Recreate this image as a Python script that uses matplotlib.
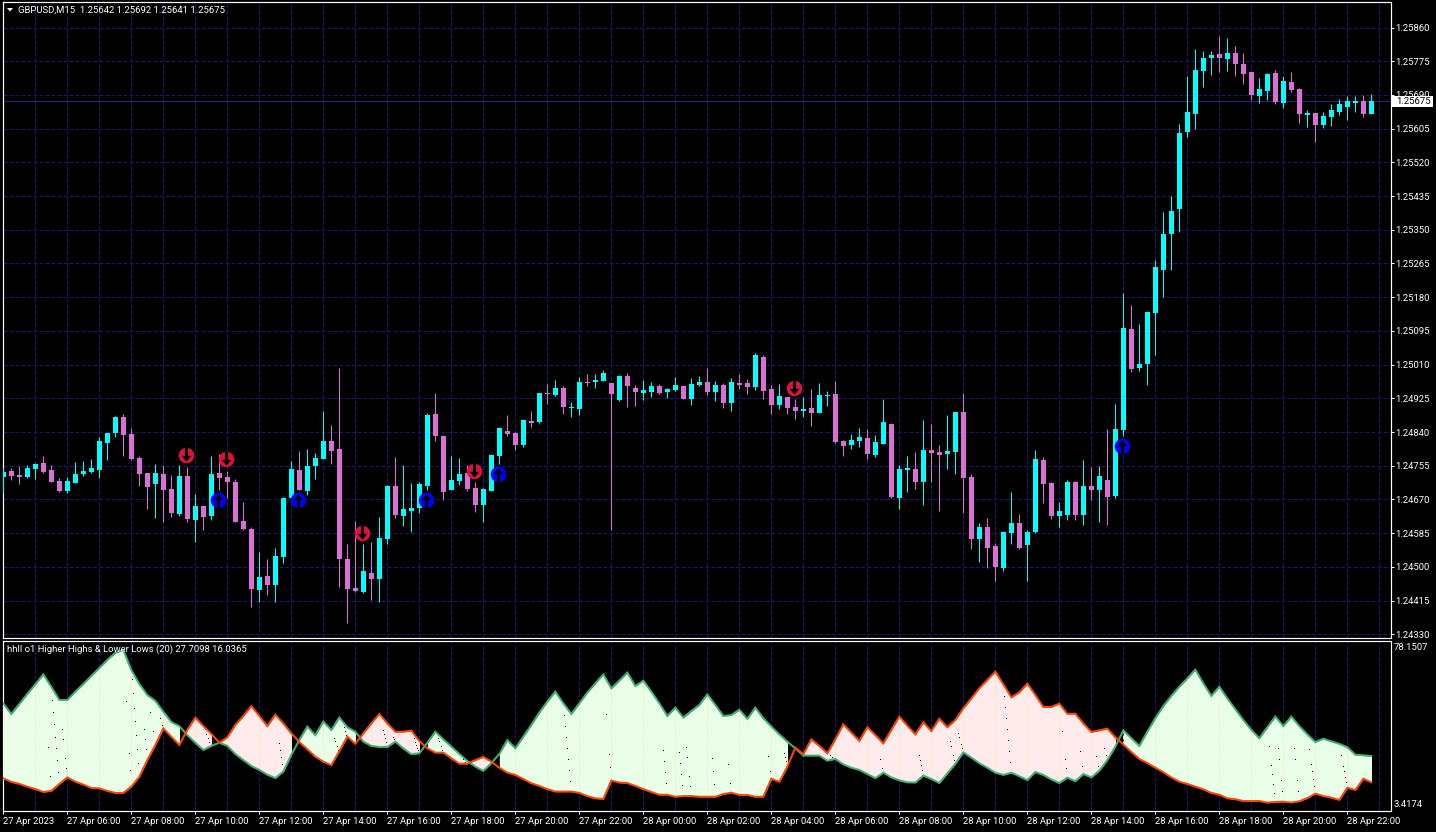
import numpy as np
import matplotlib
matplotlib.use("Agg")
import matplotlib.pyplot as plt
from matplotlib.path import Path
from matplotlib.patches import Rectangle

# Candles, in points (0.00001) above 1.24000
opens = [727,742,732,727,747,762,744,717,691,711,734,739,744,812,838,878,835,775,737,709,734,696,633,729,618,653,628,737,727,714,616,596,442,477,454,525,674,744,691,754,772,817,797,520,447,437,485,469,570,704,628,641,648,704,885,830,694,717,737,699,656,691,780,843,838,807,868,865,938,933,951,901,898,966,966,969,964,921,981,951,938,941,956,941,946,956,923,959,966,941,959,913,964,964,954,1029,948,908,928,903,893,901,888,931,936,817,807,817,825,782,810,860,674,744,747,714,795,790,785,790,891,727,570,601,553,497,585,611,555,588,769,711,628,631,714,631,704,694,719,679,845,1100,1001,1012,1140,1249,1339,1402,1597,1642,1750,1783,1793,1781,1796,1768,1748,1687,1700,1745,1670,1723,1705,1639,1644,1614,1634,1647,1660,1670,1675,1642]
highs = [749,749,754,757,762,780,757,724,727,764,767,772,827,838,880,885,850,780,737,759,757,732,757,752,684,653,780,785,743,722,664,601,538,520,548,676,767,792,797,787,893,858,1001,558,616,558,563,626,706,777,757,711,714,888,938,833,780,775,757,714,699,785,853,883,840,873,893,938,961,971,956,916,979,986,986,996,964,984,989,959,971,966,961,951,979,956,976,981,1001,969,964,976,986,974,1039,1034,959,961,928,923,928,948,964,943,969,820,835,850,848,833,923,863,757,780,790,870,860,807,883,891,938,734,611,623,560,590,689,633,593,795,777,714,664,719,717,769,752,754,848,911,1191,1160,1112,1143,1274,1395,1435,1617,1738,1806,1801,1801,1839,1834,1813,1796,1748,1733,1745,1753,1738,1748,1708,1652,1644,1647,1667,1680,1687,1687,1690,1692]
lows = [686,719,709,724,722,737,714,689,686,711,729,737,724,769,827,780,769,704,646,623,613,626,628,613,563,593,618,694,674,613,593,399,411,429,411,510,674,694,681,722,772,759,449,358,437,434,417,411,558,623,603,588,636,694,817,669,694,706,691,638,613,691,759,830,795,802,853,863,911,931,885,878,883,956,951,969,593,918,903,906,921,928,936,926,943,923,908,956,933,918,901,893,948,936,946,923,885,898,885,873,878,855,888,906,812,780,797,802,772,777,810,674,646,689,696,656,714,641,747,734,636,545,512,497,464,490,558,545,464,585,661,620,600,618,618,605,669,612,605,674,830,991,994,959,1034,1181,1249,1344,1584,1604,1710,1740,1748,1750,1738,1718,1677,1670,1677,1667,1657,1697,1619,1609,1571,1607,1612,1639,1627,1647,1634,1641]
closes = [739,729,727,749,759,739,714,691,717,734,742,749,817,838,878,833,772,734,701,737,694,636,729,621,653,626,734,724,714,613,596,444,474,454,527,674,747,694,754,775,817,792,520,444,439,490,469,573,704,631,646,648,709,883,830,689,719,734,696,656,696,782,850,835,807,870,863,938,936,951,903,903,966,964,971,989,936,981,956,941,946,956,938,949,959,923,961,966,941,959,913,966,959,954,1034,943,908,931,901,893,898,888,933,933,815,805,820,827,785,815,865,676,747,749,714,795,787,782,792,891,724,570,601,548,500,588,611,548,588,772,709,628,640,714,631,704,694,729,676,848,1102,999,1012,1143,1256,1339,1397,1594,1647,1753,1783,1791,1783,1796,1768,1743,1690,1705,1743,1672,1725,1702,1642,1644,1614,1637,1652,1667,1675,1675,1642,1675]

# Indicator: higher-highs (green) and lower-lows (orange) series
hh_line = [51.1,46.4,50.8,55.3,59.6,64.0,58.4,52.6,52.6,56.3,59.7,63.3,66.8,70.4,73.6,74.8,65.9,59.7,54.8,52.2,47.4,42.8,41.0,37.0,33.6,30.4,32.2,33.6,32.2,28.6,25.9,23.3,21.5,19.4,17.9,20.8,28.2,34.8,40.8,37.0,43.0,39.3,44.8,40.5,38.5,34.1,32.2,31.7,31.7,34.1,31.1,28.5,28.9,33.6,38.5,35.1,31.9,28.6,25.5,23.0,21.1,24.5,28.6,34.8,31.1,36.3,41.5,47.0,51.9,56.3,51.1,46.4,51.1,55.9,60.0,64.0,57.8,61.2,64.8,58.8,61.2,56.3,51.1,45.5,49.2,44.8,47.7,50.4,55.1,50.4,45.5,45.9,48.3,44.2,49.2,44.5,40.8,37.3,34.1,31.1,27.9,27.9,27.9,25.6,26.4,24.0,22.5,21.5,19.7,17.9,20.3,18.2,16.9,16.0,15.9,19.0,17.5,15.7,20.0,24.2,29.3,27.0,24.5,22.5,20.3,19.3,20.3,18.7,17.0,20.6,19.3,17.3,15.7,18.1,16.5,19.7,18.2,21.2,25.9,31.9,39.1,35.6,32.2,38.5,44.5,49.9,54.4,58.5,62.2,66.1,60.0,54.4,58.5,53.3,48.5,43.7,39.3,35.6,40.5,45.2,41.0,45.2,41.0,37.3,33.9,35.4,34.2,33.1,31.6,28.3,28.0,27.7098]
ll_line = [17.8,16.2,15.3,14.1,13.0,11.7,12.2,15.3,18.2,16.3,15.0,13.5,13.3,12.2,11.3,11.3,14.1,18.5,25.9,32.6,40.0,36.3,32.6,39.3,44.8,41.0,37.5,33.6,36.0,41.5,45.5,49.9,45.5,41.0,46.1,42.2,37.8,33.9,30.7,27.4,25.2,23.6,29.9,36.3,33.1,37.8,42.2,46.4,42.2,38.5,38.5,39.0,34.4,31.1,29.2,29.2,26.7,24.3,24.3,25.9,27.3,25.2,22.5,20.3,19.3,17.5,15.6,14.4,13.0,11.9,11.9,11.9,11.3,9.9,8.9,8.6,16.8,15.9,15.7,14.4,13.0,11.7,10.5,10.5,9.6,9.9,9.9,9.6,9.6,9.6,10.8,11.4,10.4,10.4,9.6,9.6,17.6,16.2,23.0,31.4,28.5,35.1,32.2,28.9,35.1,41.8,38.1,34.4,40.5,37.0,33.3,39.3,45.2,41.2,37.3,42.7,38.8,44.3,40.5,43.7,48.9,53.3,57.8,61.5,65.2,59.6,53.8,56.0,59.9,54.8,49.5,49.5,51.0,46.5,46.5,42.2,38.4,39.1,39.9,36.0,32.8,29.5,26.4,24.6,22.5,20.5,18.2,16.3,15.3,14.1,12.9,11.3,10.5,8.9,8.5,7.7,7.7,7.7,7.0,7.3,7.4,7.0,7.6,9.0,11.0,9.9,9.2,8.2,13.6,12.6,17.6,16.0365]

# Small black specks inside the indicator band
speck_idx = [6.13,6.25,6.38,6.5,6.63,6.75,6.88,5.63,5.88,7.38,7.5,7.75,7.88,15.38,16.38,16.5,16.63,16.75,16.88,15.75,15.88,16.13,16.25,17.63,17.75,17.88,18.38,18.75,19.88,19.63,25.38,25.63,25.75,34.5,34.63,34.75,34.88,41.38,41.5,41.75,41.88,42.63,42.75,42.88,47.5,47.63,47.75,47.88,48.75,48.88,51.25,51.38,51.5,51.63,51.75,51.88,54.38,54.5,54.75,54.88,57.5,57.75,70.13,70.25,70.38,70.5,70.63,70.75,70.88,75.38,75.75,75.88,82.5,82.63,82.75,82.88,84.5,84.63,84.75,84.88,85.38,85.5,85.75,85.88,88.63,88.75,88.88,90.63,90.88,95.63,95.88,97.63,97.75,97.88,103.38,103.63,109.63,109.88,114.5,114.63,114.75,114.88,118.38,118.5,118.75,118.88,119.38,119.5,119.75,119.88,125.13,125.25,125.38,125.5,125.63,125.75,125.88,132.38,132.75,132.88,134.63,134.88,136.63,136.88,137.63,137.88,158.25,158.5,158.63,158.75,158.88,159.38,159.5,159.75,159.88,161.38,161.5,161.75,161.88,163.25,163.5,163.63,163.75,163.88,167.25,167.5,167.63,167.75,167.88]
speck_val = [52.5,47.1,41.8,36.3,31.1,25.8,20.5,31.6,18.8,39.7,35.1,26.7,22.2,52.0,49.2,43.1,36.9,30.7,24.5,28.9,21.4,61.8,55.6,39.7,35.1,30.7,47.1,38.7,41.3,44.5,37.3,35.6,33.8,33.3,30.2,27.1,24.0,35.6,34.2,32.0,30.2,40.5,38.7,36.9,39.3,37.3,35.6,33.8,36.0,35.1,37.3,35.6,33.8,32.5,31.1,30.2,35.6,34.2,32.0,30.2,26.2,25.2,45.8,40.9,36.0,31.1,26.2,21.3,16.5,46.2,28.5,22.7,30.2,25.3,20.5,15.6,29.3,24.5,19.6,14.7,31.6,27.1,18.7,14.2,26.7,20.9,15.1,24.0,15.6,27.6,20.9,28.9,27.1,25.3,28.0,27.1,26.2,22.2,28.0,25.8,23.6,21.3,34.2,32.0,28.0,25.8,37.8,36.0,32.9,31.1,54.2,49.4,44.5,39.6,34.7,29.8,24.9,38.7,26.2,22.2,29.8,23.1,27.6,23.1,31.1,28.0,32.0,23.6,19.6,15.1,11.1,31.1,26.2,16.9,12.0,31.1,26.2,16.9,12.0,30.7,24.0,20.9,17.4,14.2,28.0,23.1,20.9,18.2,16.0]

# Signal arrows: candle index and price in points above 1.24000
down_idx = [23,28,45,59,99]
down_pts = [781,771,586,742,952]
up_idx = [27,37,53,62,140]
up_pts = [669,669,669,734,804]

price_ticks = [1.24330,1.24415,1.24500,1.24585,1.24670,1.24755,1.24840,1.24925,1.25010,1.25095,1.25180,1.25265,1.25350,1.25435,1.25520,1.25605,1.25690,1.25775,1.25860]
time_labels = ["27 Apr 2023","27 Apr 06:00","27 Apr 08:00","27 Apr 10:00","27 Apr 12:00","27 Apr 14:00","27 Apr 16:00","27 Apr 18:00","27 Apr 20:00","27 Apr 22:00","28 Apr 00:00","28 Apr 02:00","28 Apr 04:00","28 Apr 06:00","28 Apr 08:00","28 Apr 10:00","28 Apr 12:00","28 Apr 14:00","28 Apr 16:00","28 Apr 18:00","28 Apr 20:00","28 Apr 22:00"]
last_price = 1.25675
hh_max, ll_min = 78.1507, 3.4174

W, H = 1436, 832
FS = 6.8
plt.rcParams["lines.scale_dashes"] = False
plt.rcParams["font.family"] = ["Roboto", "DejaVu Sans"]
PX = 0.72
DASH = (0, (4 * PX, 2 * PX))
GRID = "#191970"
BULL = "#00FFFF"
BEAR = "#DA70D6"

fig = plt.figure(figsize=(W / 100, H / 100), dpi=100, facecolor="black")

def make_axes(left, right, top, bottom):
    ax = fig.add_axes([left / W, 1 - bottom / H, (right - left) / W, (bottom - top) / H], facecolor="black")
    for s in ax.spines.values():
        s.set_color("white")
        s.set_linewidth(PX * 1.2)
    ax.set_xlim((left - 3.33) / 8, (right - 3.33) / 8)
    return ax

L, R = 2.5, 1390.5
ax = make_axes(L, R, 1.5, 638)
ax2 = make_axes(L, R, 641, 811)

# price scale: 39660 px per unit, 1.24330 at pixel row 634.3
ax.set_ylim(1.2433 + (634.3 - 638) / 39660, 1.2433 + (634.3 - 1.5) / 39660)
# indicator scale: 2.25 px per unit
ax2.set_ylim(27.71 - 55 / 2.25, 27.71 + 115 / 2.25)

idx = np.arange(len(opens))
o, h, l, c = [1.24 + np.array(a) * 1e-5 for a in (opens, highs, lows, closes)]
colors = [BULL if cc > oo else BEAR for oo, cc in zip(o, c)]

grid_idx = np.arange(0, 173, 4)
for a in (ax, ax2):
    a.vlines(grid_idx, *a.get_ylim(), color=GRID, lw=PX, linestyles=[DASH], zorder=1, snap=True)
ax.hlines(price_ticks, *ax.get_xlim(), color=GRID, lw=PX, linestyles=[DASH], zorder=1, snap=True)
ax.axhline(last_price, color="#24247c", lw=PX, zorder=1.5, snap=True)

ax.vlines(idx, l, h, colors=colors, lw=PX, zorder=3, snap=True)
ax.bar(idx, np.abs(c - o), bottom=np.minimum(o, c), width=5 / 8, color=colors, linewidth=0, zorder=4, antialiased=False)

# arrow glyphs: disc with a black arrow cut through it
arrow_dn = Path([(-.2, 1), (.2, 1), (.2, -.05), (.62, -.05), (0, -.8), (-.62, -.05), (-.2, -.05), (-.2, 1)], closed=True)
arrow_up = Path([(-.2, -1), (.2, -1), (.2, .05), (.62, .05), (0, .8), (-.62, .05), (-.2, .05), (-.2, -1)], closed=True)
SHIFT = -1.2 / 8
dx, dy = np.array(down_idx) + SHIFT, 1.24 + np.array(down_pts) * 1e-5
ux, uy = np.array(up_idx) + SHIFT, 1.24 + np.array(up_pts) * 1e-5
ms = 15.5 * PX
ax.plot(dx, dy, "o", ms=ms, mfc="#DC143C", mew=0, zorder=6)
ax.plot(dx, dy, ls="", marker=arrow_dn, ms=ms, mfc="black", mew=0, zorder=7)
ax.plot(ux, uy, "o", ms=ms, mfc="#0000FF", mew=0, zorder=6)
ax.plot(ux, uy, ls="", marker=arrow_up, ms=ms, mfc="black", mew=0, zorder=7)

ax.set_xticks([])
ax.yaxis.tick_right()
ax.set_yticks(price_ticks)
ax.set_yticklabels([f"{p:.5f}" for p in price_ticks], color="white", fontsize=FS)
ax.tick_params(axis="y", length=3 * PX, width=PX, color="white", pad=1.5)

# indicator band
G = np.array(hh_line)
Rr = np.array(ll_line)
GREEN_FILL = "#EAFFE8"
PINK_FILL = "#FFEBEB"
for i in range(len(G) - 1):
    g0, g1, r0, r1 = G[i], G[i + 1], Rr[i], Rr[i + 1]
    if g0 > r0 and g1 > r1:
        ax2.fill_between([i, i + 1.02], [g0, g1], [r0, r1], color=GREEN_FILL, lw=0, zorder=2, antialiased=False)
    elif r0 > g0 and r1 > g1:
        ax2.fill_between([i, i + 1.02], [g0, g1], [r0, r1], color=PINK_FILL, lw=0, zorder=2, antialiased=False)
    elif g0 >= r0 and r1 > g1:
        t = (g0 - r0) / ((g0 - r0) + (r1 - g1))
        cv = g0 + t * (g1 - g0)
        ax2.fill_between([i + t, i + 1.02], [cv, g1], [cv, r1], color=PINK_FILL, lw=0, zorder=2, antialiased=False)

inside = [i for i in grid_idx[1:] if i < len(G)]
ax2.vlines(inside, np.minimum(G, Rr)[inside], np.maximum(G, Rr)[inside], color="#F4EDBE", lw=PX,
           linestyles=[DASH], zorder=2.5, snap=True)
ax2.plot(speck_idx, speck_val, ls="", marker="s", ms=PX, mfc="black", mew=0, zorder=3)
ax2.plot(idx, G, color="#3CB371", lw=2 * PX, zorder=4, solid_joinstyle="miter")
ax2.plot(idx, Rr, color="#FF4500", lw=2 * PX, zorder=5, solid_joinstyle="miter")

ax2.yaxis.set_visible(False)
ax2.set_xticks(np.arange(0, len(time_labels) * 8, 8))
ax2.set_xticklabels(time_labels, color="white", fontsize=FS, ha="left")
ax2.tick_params(axis="x", length=3 * PX, width=PX, color="white", pad=2)

def ptxt(x, y, s, color="white", **kw):
    fig.text(x / W, 1 - y / H, s, color=color, fontsize=FS, va="center", **kw)

# chart header, indicator header, axis labels and last price flag
fig.patches.append(plt.Polygon([(7 / W, 1 - 8 / H), (13 / W, 1 - 8 / H), (10 / W, 1 - 11.5 / H)], closed=True,
                               transform=fig.transFigure, fc="white", ec="none", figure=fig))
ptxt(18, 10, f"GBPUSD,M15  1.25642 1.25692 1.25641 {last_price:.5f}")
ptxt(7, 649.5, f"hhll o1 Higher Highs & Lower Lows (20) {hh_line[-1]:.4f} {ll_line[-1]:.4f}")
ptxt(1394, 647.5, f"{hh_max:.4f}")
ptxt(1394, 804.5, f"{ll_min:.4f}")
fig.patches.append(Rectangle((1392 / W, 1 - 107 / H), 41 / W, 11 / H, transform=fig.transFigure, fc="white", ec="none", figure=fig))
ptxt(1396, 101.2, f"{last_price:.5f}", color="black", zorder=10)

fig.savefig("out.png", dpi=100, facecolor="black")
